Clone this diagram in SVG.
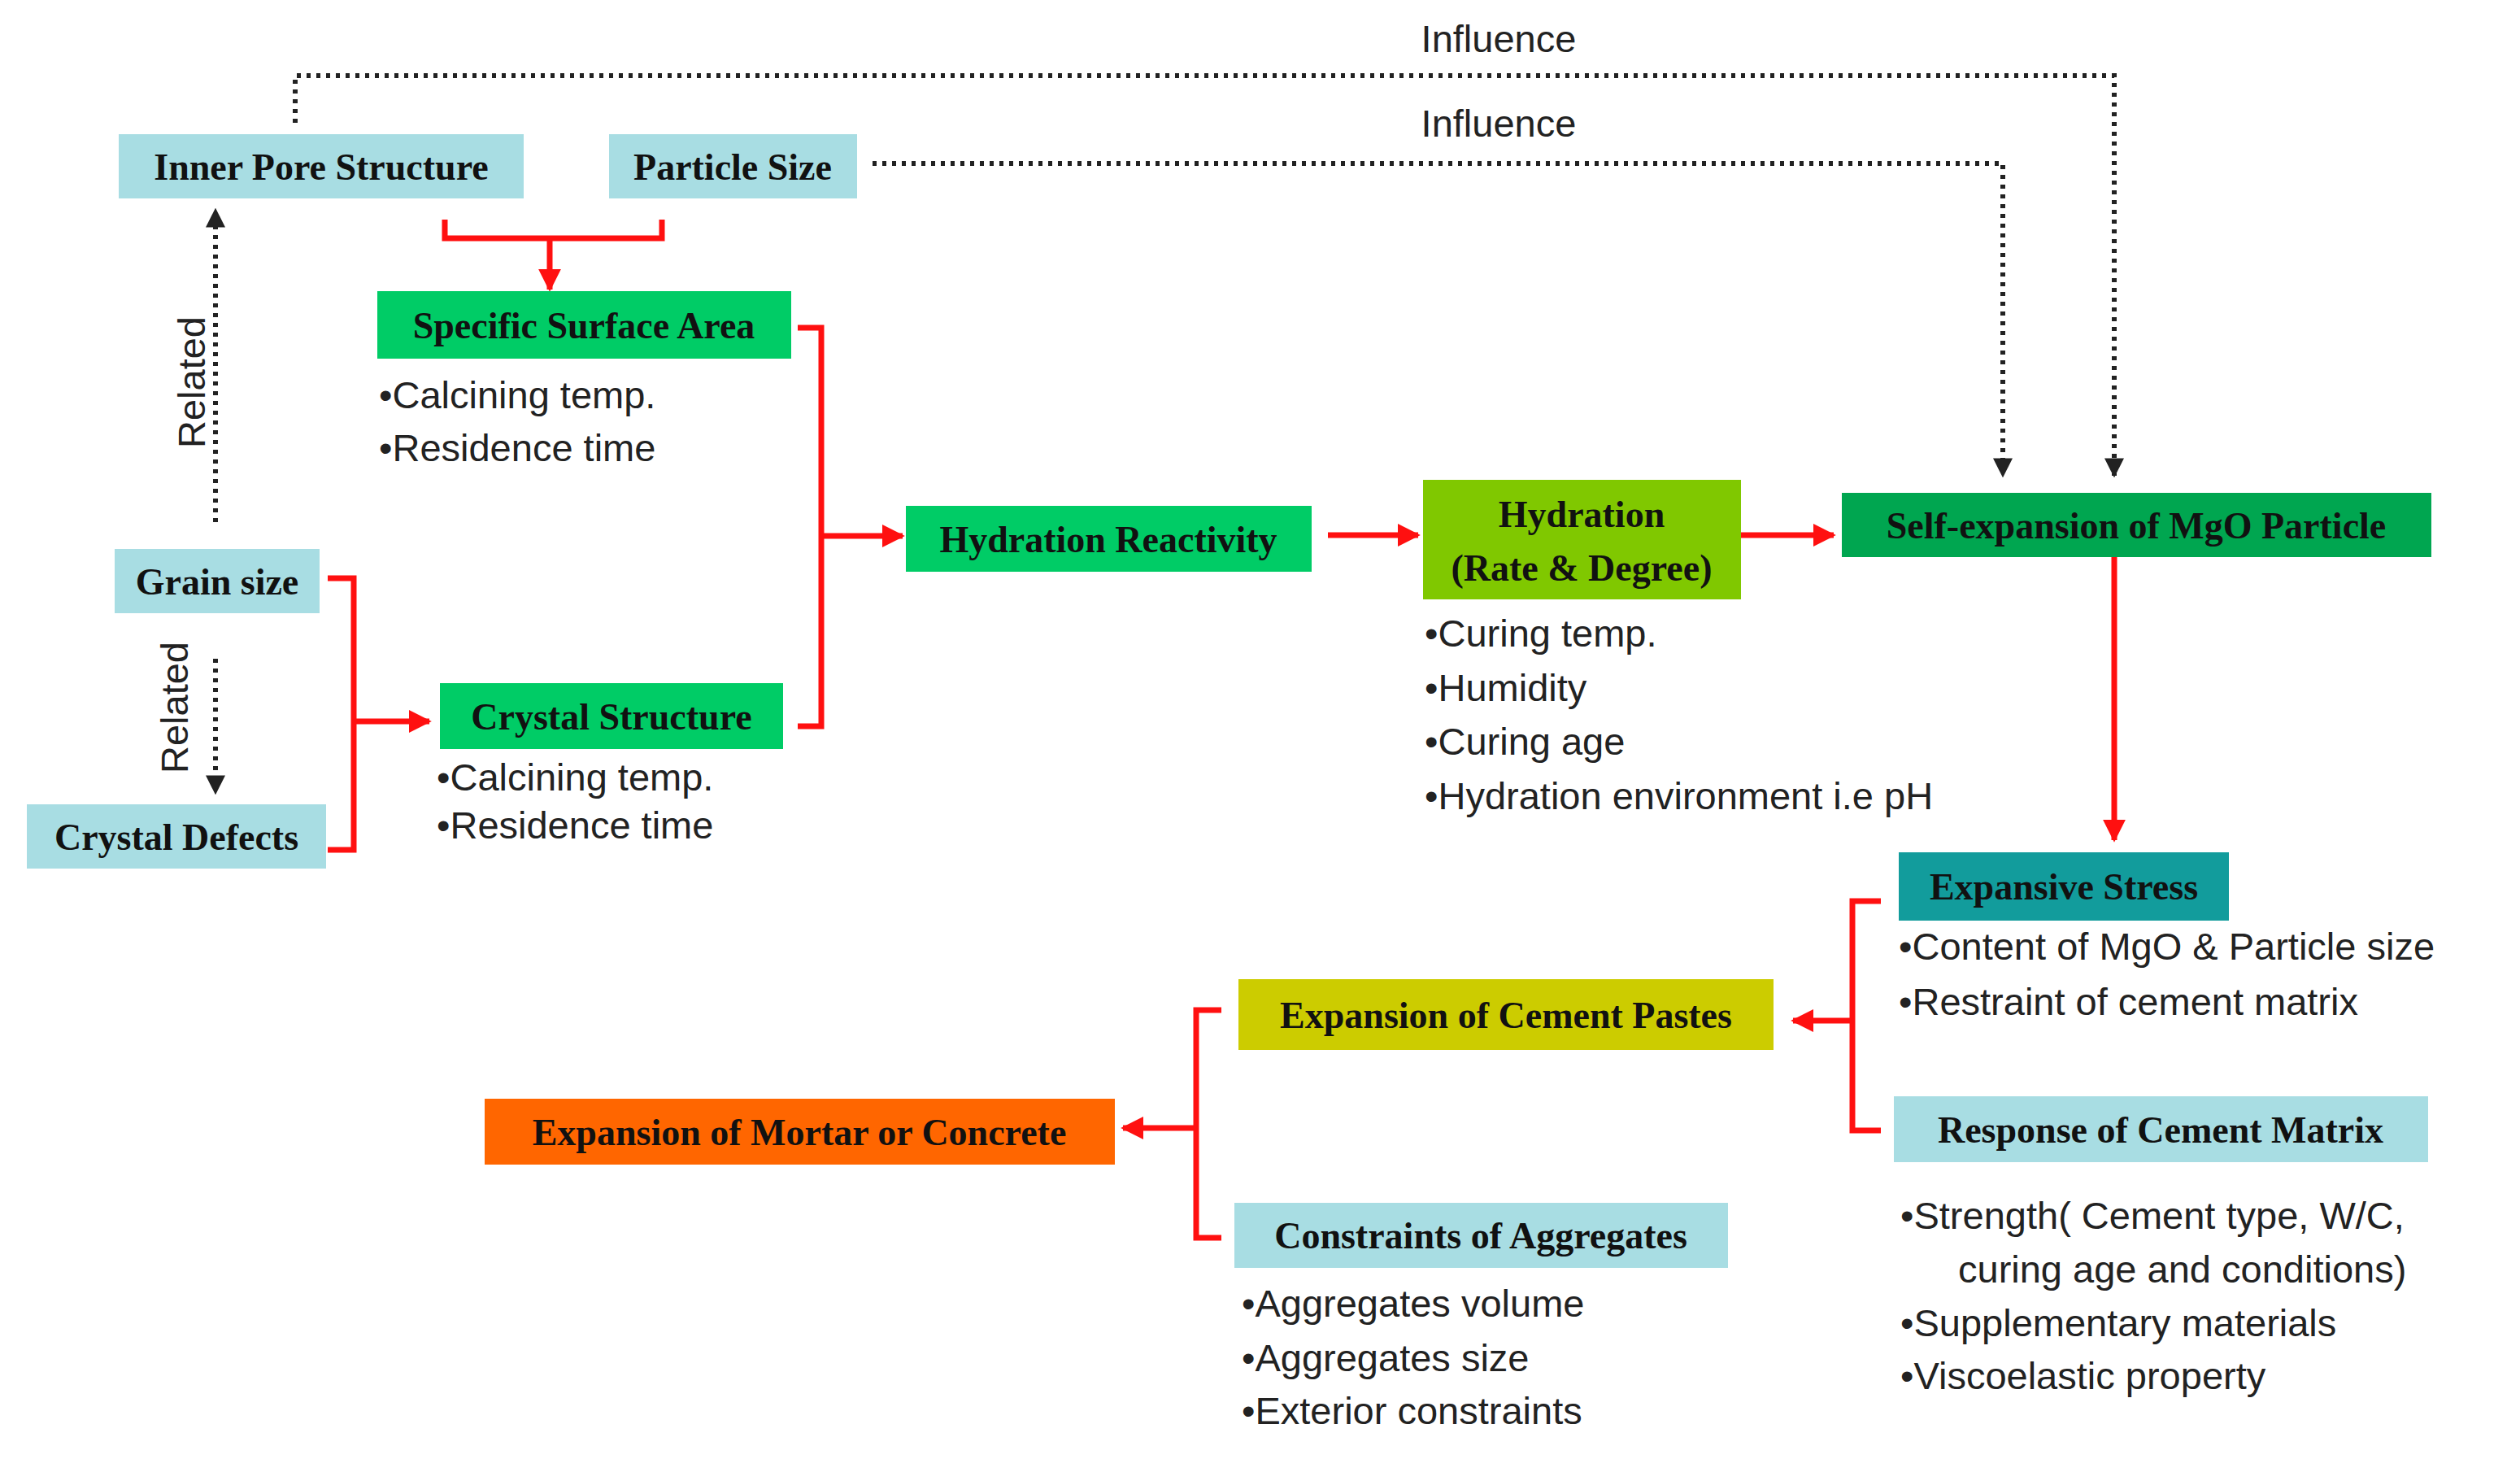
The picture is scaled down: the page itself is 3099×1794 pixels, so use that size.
<svg xmlns="http://www.w3.org/2000/svg" width="3099" height="1794" viewBox="0 0 3099 1794">
<style>
.t{font-family:"Liberation Serif",serif;font-weight:bold;font-size:46px;fill:#111;text-anchor:middle}
.b{font-family:"Liberation Sans",Arial,sans-serif;font-size:47px;fill:#222}
.lb{fill:#a8dde3}.g{fill:#00cc66}.red{stroke:#ff1010;stroke-width:7;fill:none}
.dot{stroke:#222;stroke-width:6;stroke-dasharray:5 7;fill:none}
</style>
<defs>
<marker id="ra" viewBox="0 0 10 10" refX="9" refY="5" markerWidth="4" markerHeight="4" orient="auto" markerUnits="strokeWidth"><path d="M0,0L10,5L0,10z" fill="#ff1010"/></marker>
<marker id="ka" viewBox="0 0 10 10" refX="9" refY="5" markerWidth="4" markerHeight="4" orient="auto" markerUnits="strokeWidth"><path d="M0,0L10,5L0,10z" fill="#222"/></marker>
</defs>
<rect width="3099" height="1794" fill="#fff"/>
<g id="connectors">
<path class="dot" d="M363,151V93H2600V585" marker-end="url(#ka)"/>
<path class="dot" d="M1073,201H2463V585" marker-end="url(#ka)"/>
<path class="dot" d="M265,642V258" marker-end="url(#ka)"/>
<path class="dot" d="M265,810V975" marker-end="url(#ka)"/>
<path class="red" d="M547,270V293H814V270M676,293V356" marker-end="url(#ra)"/>
<path class="red" d="M981,403H1010V893H981M1010,659H1110" marker-end="url(#ra)"/>
<path class="red" d="M403,711H435V1045H403M435,887H528" marker-end="url(#ra)"/>
<path class="red" d="M1633,658H1744" marker-end="url(#ra)"/>
<path class="red" d="M2141,658H2255" marker-end="url(#ra)"/>
<path class="red" d="M2600,685V1033" marker-end="url(#ra)"/>
<path class="red" d="M2313,1108H2278V1390H2313M2278,1255H2205" marker-end="url(#ra)"/>
<path class="red" d="M1502,1242H1471V1522H1502M1471,1387H1381" marker-end="url(#ra)"/>
<text class="b" x="1843" y="64" text-anchor="middle">Influence</text>
<text class="b" x="1843" y="168" text-anchor="middle">Influence</text>
<text class="b" transform="translate(252,470) rotate(-90)" text-anchor="middle">Related</text>
<text class="b" transform="translate(231,870) rotate(-90)" text-anchor="middle">Related</text>
</g>
<g id="inner-pore"><rect class="lb" x="146" y="165" width="498" height="79"/><text class="t" x="395" y="221">Inner Pore Structure</text></g>
<g id="particle-size"><rect class="lb" x="749" y="165" width="305" height="79"/><text class="t" x="901" y="221">Particle Size</text></g>
<g id="ssa"><rect class="g" x="464" y="358" width="509" height="83"/><text class="t" x="718" y="416">Specific Surface Area</text>
<text class="b" x="466" y="502">•Calcining temp.</text><text class="b" x="466" y="567">•Residence time</text></g>
<g id="grain"><rect class="lb" x="141" y="675" width="252" height="79"/><text class="t" x="267" y="731">Grain size</text></g>
<g id="defects"><rect class="lb" x="33" y="989" width="368" height="79"/><text class="t" x="217" y="1045">Crystal Defects</text></g>
<g id="crystal"><rect class="g" x="541" y="840" width="422" height="81"/><text class="t" x="752" y="897">Crystal Structure</text>
<text class="b" x="537" y="972">•Calcining temp.</text><text class="b" x="537" y="1031">•Residence time</text></g>
<g id="reactivity"><rect class="g" x="1114" y="622" width="499" height="81"/><text class="t" x="1363" y="679">Hydration Reactivity</text></g>
<g id="hydration"><rect fill="#80c800" x="1750" y="590" width="391" height="147"/><text class="t" x="1945" y="648">Hydration</text><text class="t" x="1945" y="714">(Rate &amp; Degree)</text>
<text class="b" x="1752" y="795">•Curing temp.</text><text class="b" x="1752" y="862">•Humidity</text><text class="b" x="1752" y="928">•Curing age</text><text class="b" x="1752" y="995">•Hydration environment i.e pH</text></g>
<g id="self-expansion"><rect fill="#00a650" x="2265" y="606" width="725" height="79"/><text class="t" x="2627" y="662">Self-expansion of MgO Particle</text></g>
<g id="expansive-stress"><rect fill="#129c9c" x="2335" y="1048" width="406" height="84"/><text class="t" x="2538" y="1106">Expansive Stress</text>
<text class="b" x="2335" y="1180">•Content of MgO &amp; Particle size</text><text class="b" x="2335" y="1248">•Restraint of cement matrix</text></g>
<g id="response"><rect class="lb" x="2329" y="1348" width="657" height="81"/><text class="t" x="2657" y="1405">Response of Cement Matrix</text>
<text class="b" x="2337" y="1511">•Strength( Cement type, W/C,</text><text class="b" x="2408" y="1577">curing age and conditions)</text><text class="b" x="2337" y="1643">•Supplementary materials</text><text class="b" x="2337" y="1708">•Viscoelastic property</text></g>
<g id="pastes"><rect fill="#cccc00" x="1523" y="1204" width="658" height="87"/><text class="t" x="1852" y="1264">Expansion of Cement Pastes</text></g>
<g id="mortar"><rect fill="#ff6600" x="596" y="1351" width="775" height="81"/><text class="t" x="983" y="1408">Expansion of Mortar or Concrete</text></g>
<g id="aggregates"><rect class="lb" x="1518" y="1479" width="607" height="80"/><text class="t" x="1821" y="1535">Constraints of Aggregates</text>
<text class="b" x="1527" y="1619">•Aggregates volume</text><text class="b" x="1527" y="1686">•Aggregates size</text><text class="b" x="1527" y="1751">•Exterior constraints</text></g>
</svg>
